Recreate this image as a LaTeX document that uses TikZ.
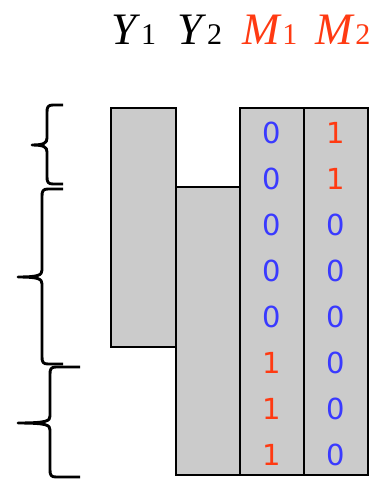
\documentclass[tikz,border=0pt]{standalone}
\usepackage{fontspec}
\setmainfont{Liberation Serif}
\newfontfamily\digitfont{DejaVu Sans}
\definecolor{boxgray}{HTML}{CBCBCB}
\definecolor{digblue}{HTML}{3A3AFF}
\definecolor{digred}{HTML}{FF3A12}
\tikzset{
  colbox/.style={draw=black, fill=boxgray, line width=2.8pt},
  head/.style={anchor=base, inner sep=0pt, font=\fontsize{45}{45}\selectfont},
  dig/.style={inner sep=0pt, font=\digitfont\fontsize{29}{29}\selectfont},
  bracestyle/.style={line width=2.9pt, line join=round}
}
\newcommand{\subdig}[1]{{\fontsize{30}{30}\selectfont\upshape #1}}
% #1 end x, #2 vertical x, #3 top, #4 bottom, #5 tip x, #6 tip y
\newcommand{\mybrace}[6]{%
  \draw[bracestyle] (#1,#3) -- ({#2+6},#3)
    .. controls ({#2+1},#3) and (#2,{#3+2}) .. (#2,{#3+7})
    -- (#2,{#6-7})
    .. controls (#2,{#6-2}) and ({#2-3},#6) .. (#5,#6)
    .. controls ({#2-3},#6) and (#2,{#6+2}) .. (#2,{#6+7})
    -- (#2,{#4-7})
    .. controls (#2,{#4-2}) and ({#2+1},#4) .. ({#2+6},#4)
    -- (#1,#4);}
\begin{document}
\begin{tikzpicture}[x=1pt,y=-1pt]
\useasboundingbox (0,0) rectangle (375,479);
% boxes
\draw[colbox] (111,108) rectangle (176,347);
\draw[colbox] (176,187) rectangle (240,475);
\draw[colbox] (240,108) rectangle (304,475);
\draw[colbox] (304,108) rectangle (368,475);
% headers
\node[head] (y1) at (134,44) {\textit{Y}\subdig{1}};
\node[head] (y2) at (200,44) {\textit{Y}\subdig{2}};
\node[head, text=digred] (m1) at (270,44) {\textit{M}\subdig{1}};
\node[head, text=digred] (m2) at (343,44) {\textit{M}\subdig{2}};
% digits
\foreach \i/\da/\ca/\db/\cb in {0/0/digblue/1/digred,1/0/digblue/1/digred,2/0/digblue/0/digblue,3/0/digblue/0/digblue,4/0/digblue/0/digblue,5/1/digred/0/digblue,6/1/digred/0/digblue,7/1/digred/0/digblue}{
  \pgfmathsetmacro{\yy}{132.5+46*\i}
  \node[dig, text=\ca] (a\i) at (272,\yy) {\da};
  \node[dig, text=\cb] (b\i) at (336,\yy) {\db};
}
% braces
\mybrace{63}{47}{105}{184}{32}{145}
\mybrace{63}{42}{189}{364}{18}{277}
\mybrace{80}{50}{367}{477}{18}{423}
\end{tikzpicture}
\end{document}
